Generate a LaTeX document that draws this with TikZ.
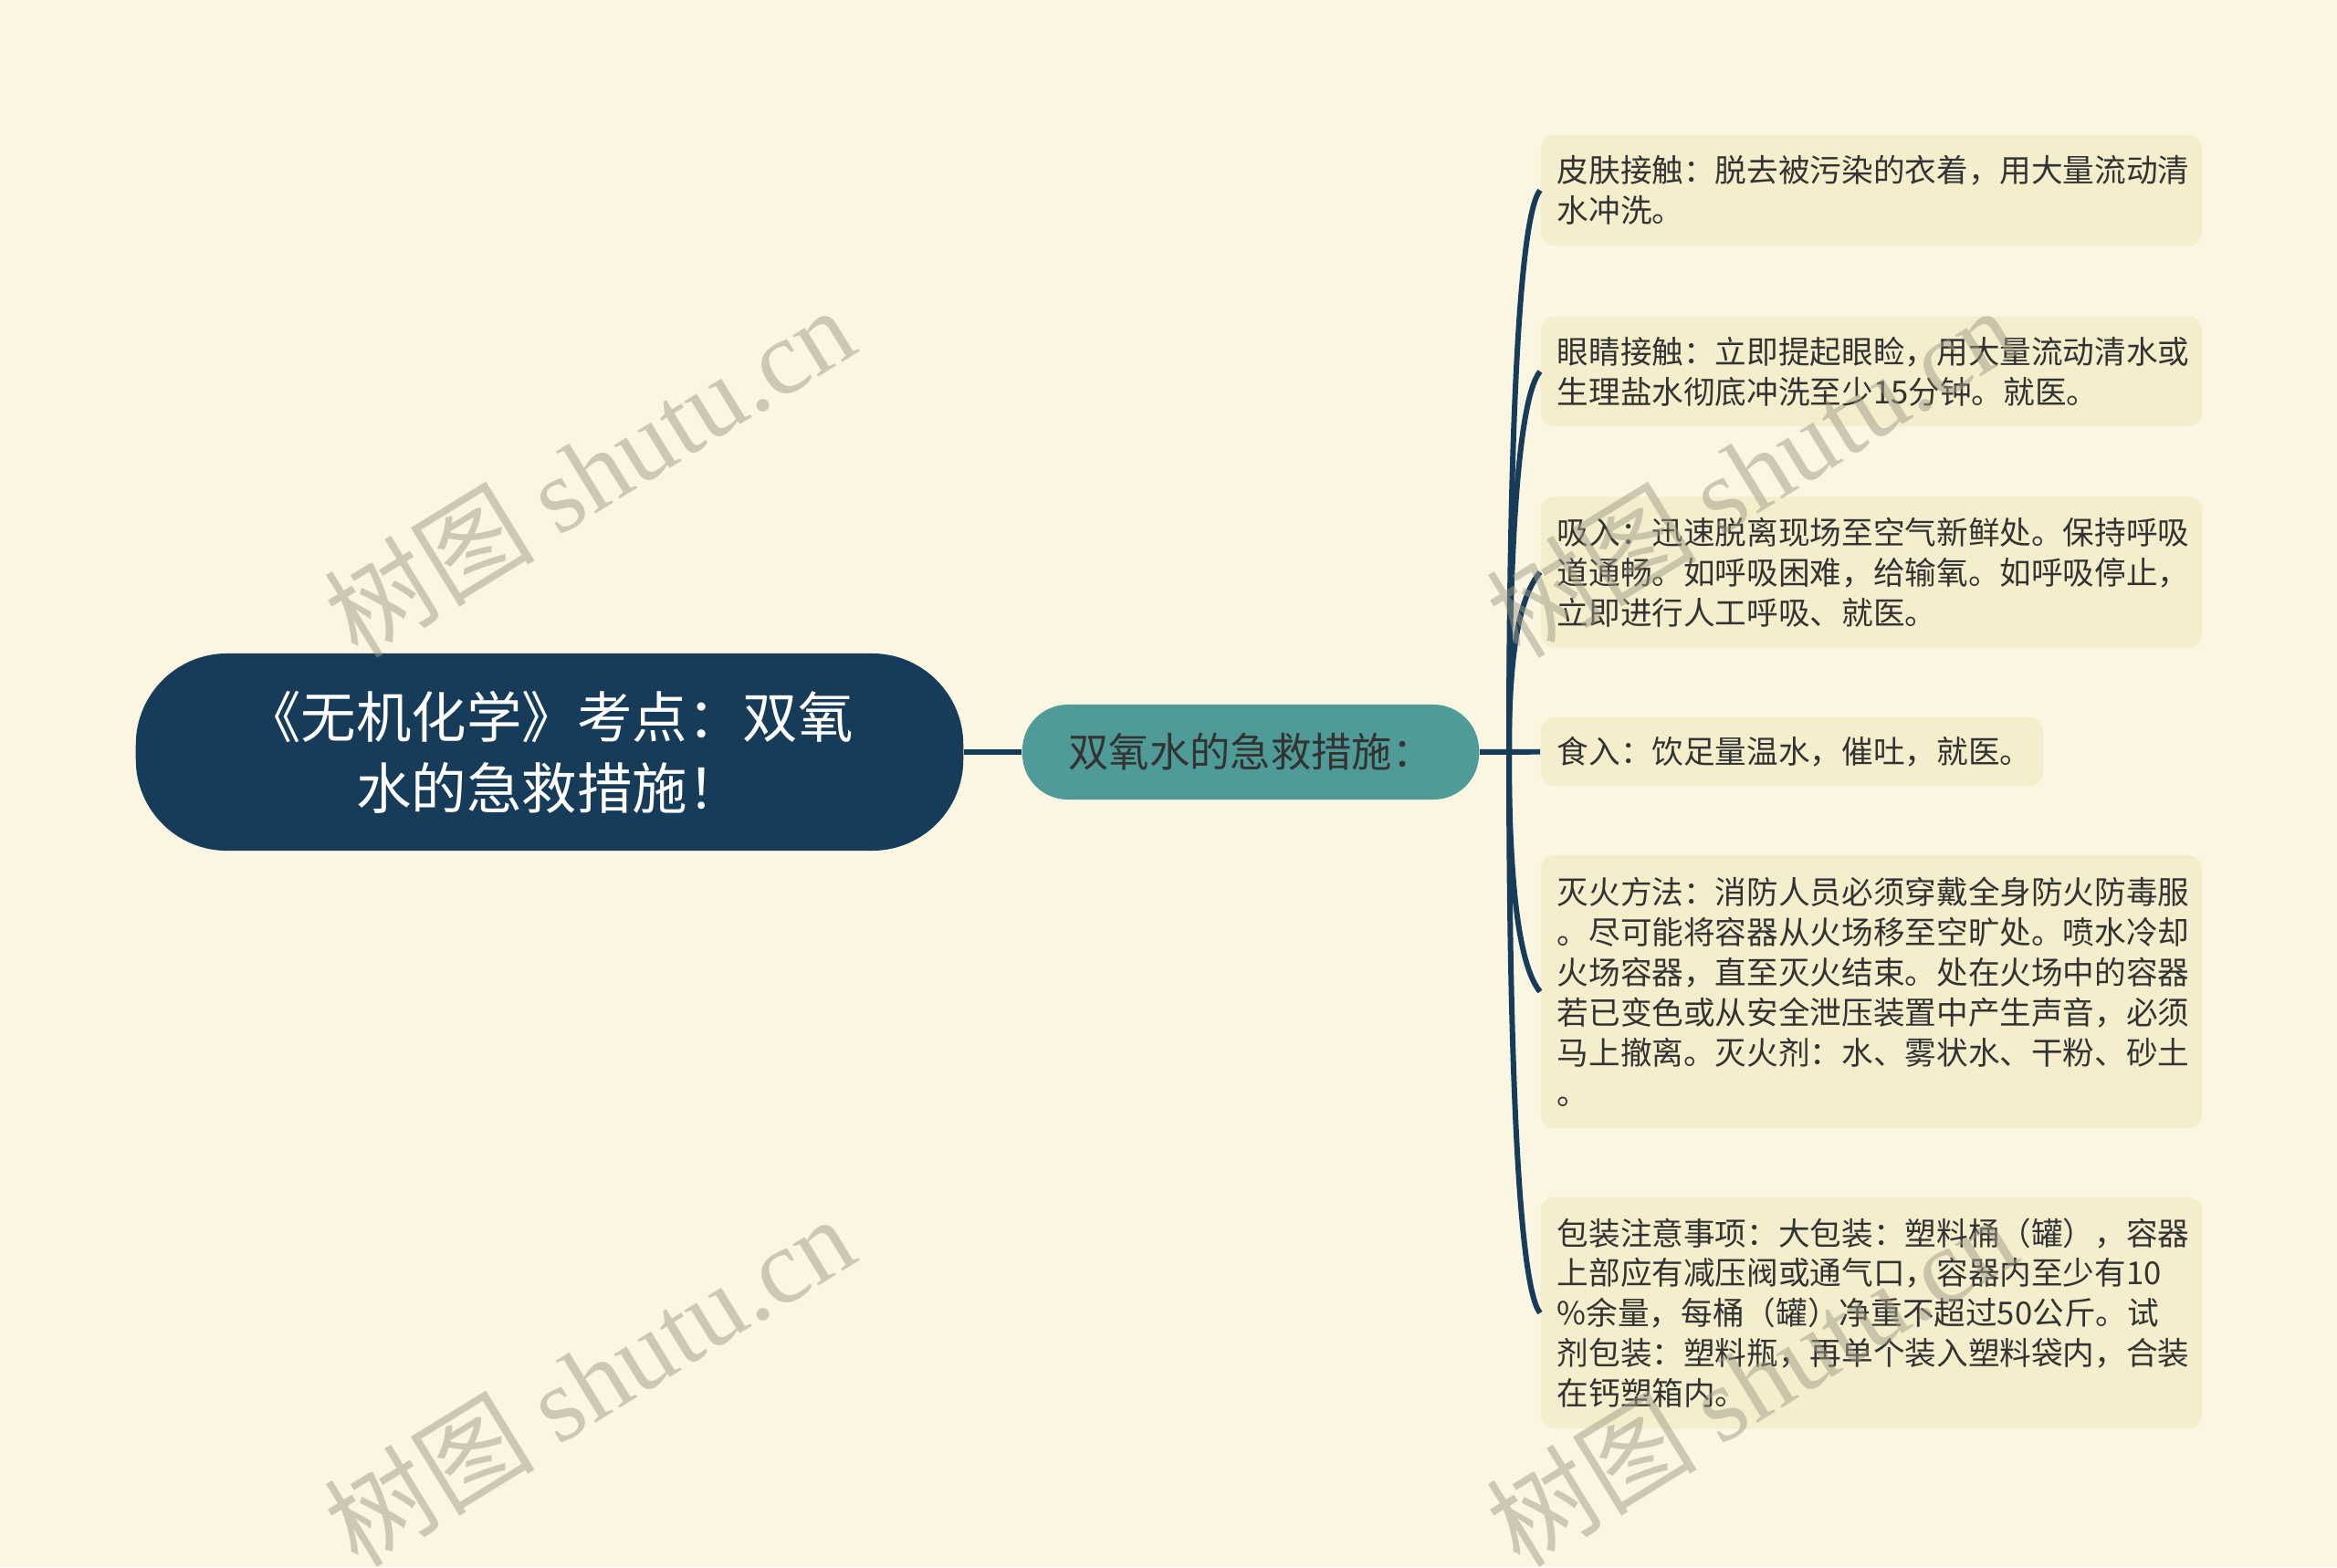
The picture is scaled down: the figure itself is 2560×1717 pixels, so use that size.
\documentclass[tikz,border=0pt]{standalone}
\usepackage{fontspec}
\setmainfont{Noto Sans CJK SC}
\newfontfamily\wmfont{Liberation Serif}
\definecolor{bgc}{HTML}{FAF6E2}
\definecolor{navy}{HTML}{173C5A}
\definecolor{myteal}{HTML}{4F9B98}
\definecolor{leafc}{HTML}{F5EECD}
\definecolor{txt}{HTML}{333333}
\definecolor{wmc}{HTML}{A09C88}
\tikzset{
    main/.style={rectangle, rounded corners=1cm, fill=navy, text=white, minimum width=9.06cm, minimum height=2.16cm, align=center, font=\fontsize{17.2}{22.2}\selectfont},
    branch/.style={rectangle, rounded corners=0.5cm, fill=myteal, text=txt, minimum width=5cm, minimum height=1.04cm, font=\fontsize{12.6}{14}\selectfont},
    leaf/.style={rectangle, rounded corners=0.15cm, fill=leafc, text=txt, anchor=west, inner xsep=0.18cm, inner ysep=0pt, text width=6.88cm, align=left, font=\fontsize{9.85}{12.5}\selectfont},
    link/.style={draw=navy, line width=1.7pt},
    wm/.style={text=wmc, opacity=0.5, rotate=31.6, font=\fontsize{33}{33}\selectfont}
}

\begin{document}
\begin{tikzpicture}[x=0.01cm,y=-0.01cm]
\useasboundingbox (0,0) rectangle (2560,1717);
\fill[bgc] (0,0) rectangle (2560,1717);

\node[main] at (602,824) (m0) {《无机化学》考点：双氧\\水的急救措施！};
\node[branch] at (1370,824) (b1) {双氧水的急救措施：};
\draw[link] (m0) -- (b1);

\node[leaf,minimum height=1.21cm] at (1687,208.5) (p1) {皮肤接触：脱去被污染的衣着，用大量流动清\\水冲洗。};
\node[leaf,minimum height=1.20cm] at (1687,407) (p2) {眼睛接触：立即提起眼睑，用大量流动清水或\\生理盐水彻底冲洗至少15分钟。就医。};
\node[leaf,minimum height=1.65cm] at (1687,627) (p3) {吸入：迅速脱离现场至空气新鲜处。保持呼吸\\道通畅。如呼吸困难，给输氧。如呼吸停止，\\立即进行人工呼吸、就医。};
\node[leaf,minimum height=0.75cm,text width=5.14cm] at (1687,823.5) (p4) {食入：饮足量温水，催吐，就医。};
\node[leaf,minimum height=2.99cm] at (1687,1086.5) (p5) {灭火方法：消防人员必须穿戴全身防火防毒服\\。尽可能将容器从火场移至空旷处。喷水冷却\\火场容器，直至灭火结束。处在火场中的容器\\若已变色或从安全泄压装置中产生声音，必须\\马上撤离。灭火剂：水、雾状水、干粉、砂土\\。};
\node[leaf,minimum height=2.53cm] at (1687,1438.5) (p6) {包装注意事项：大包装：塑料桶（罐），容器\\上部应有减压阀或通气口，容器内至少有10\\\%余量，每桶（罐）净重不超过50公斤。试\\剂包装：塑料瓶，再单个装入塑料袋内，合装\\在钙塑箱内。};

\coordinate (fork) at (1653,824);
\draw[link] (b1) -- (p4);
\draw[link] (fork) .. controls (1653,516) and (1662,239) .. (p1.west);
\draw[link] (fork) .. controls (1653,615) and (1662,437) .. (p2.west);
\draw[link] (fork) .. controls (1653,725) and (1662,657) .. (p3.west);
\draw[link] (fork) .. controls (1653,955) and (1662,1056.5) .. (p5.west);
\draw[link] (fork) .. controls (1653,1131) and (1662,1408.5) .. (p6.west);

% watermarks
\node[wm] at (645,516) (w1) {树图 {\wmfont shutu.cn}};
\node[wm] at (645,1512) (w2) {树图 {\wmfont shutu.cn}};
\node[wm] at (1918,516) (w3) {树图 {\wmfont shutu.cn}};
\node[wm] at (1918,1512) (w4) {树图 {\wmfont shutu.cn}};
\end{tikzpicture}
\end{document}
